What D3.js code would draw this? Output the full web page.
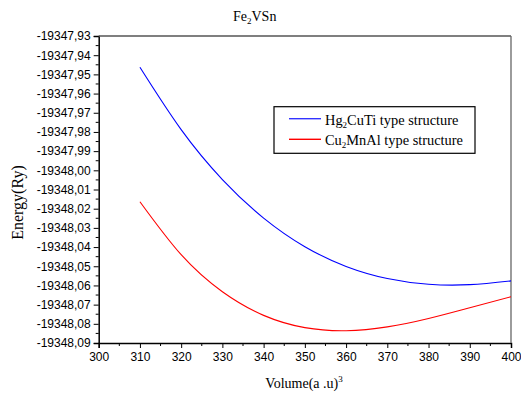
<!DOCTYPE html>
<html>
<head>
<meta charset="utf-8">
<script src="https://cdn.jsdelivr.net/npm/d3@7"></script>
<style>
  body { margin: 0; background: #fff; }
  .tick text { font-family: "Liberation Sans", Arial, sans-serif; font-size: 12px; fill: #000; }
</style>
</head>
<body>
<div id="chart"></div>
<script>
// volumes (a.u.^3) and energies (Ry)
var volumes = [310, 320, 330, 340, 350, 360, 370, 380, 390, 400];
var hgCuTi = [-19347.9463, -19347.9788, -19348.0048, -19348.0249, -19348.0398,
              -19348.0501, -19348.0564, -19348.0594, -19348.0596, -19348.0576];
var cuMnAl = [-19348.0164, -19348.0440, -19348.0633, -19348.0756, -19348.0820,
              -19348.0836, -19348.0816, -19348.0772, -19348.0716, -19348.0659];
var seriesNames = ["Hg2CuTi type structure", "Cu2MnAl type structure"];
var xTicks = [300, 310, 320, 330, 340, 350, 360, 370, 380, 390, 400];
var yTicks = [-19347.93, -19347.94, -19347.95, -19347.96, -19347.97, -19347.98, -19347.99,
              -19348.00, -19348.01, -19348.02, -19348.03, -19348.04, -19348.05, -19348.06,
              -19348.07, -19348.08, -19348.09];

var SERIF = "'Liberation Serif', 'Times New Roman', Times, 'DejaVu Serif', serif";

var width = 521, height = 396;
var margin = { top: 36, right: 10, bottom: 53, left: 98.7 };
var w = width - margin.left - margin.right,
    h = height - margin.top - margin.bottom;

var svg = d3.select("#chart").append("svg")
    .attr("width", width)
    .attr("height", height);

var g = svg.append("g")
    .attr("transform", "translate(" + margin.left + "," + margin.top + ")");

var x = d3.scaleLinear().domain([300, 400]).range([0, w]);
var y = d3.scaleLinear().domain([-19348.09, -19347.93]).range([h, 0]);

// minor ticks (half steps)
var xMinor = d3.range(305, 400, 10);
var yMinor = yTicks.slice(1).map(function(d) { return d + 0.005; });

g.selectAll(".xminor").data(xMinor).enter().append("line")
    .attr("x1", function(d) { return x(d); }).attr("x2", function(d) { return x(d); })
    .attr("y1", h).attr("y2", h + 3)
    .attr("stroke", "#000");
g.selectAll(".yminor").data(yMinor).enter().append("line")
    .attr("x1", -3).attr("x2", 0)
    .attr("y1", function(d) { return y(d); }).attr("y2", function(d) { return y(d); })
    .attr("stroke", "#000");

var xAxis = g.append("g")
    .attr("transform", "translate(0," + h + ")")
    .call(d3.axisBottom(x).tickValues(xTicks).tickSize(5).tickPadding(4).tickFormat(d3.format("d")));
xAxis.select(".domain").attr("stroke-width", 1.5);

var yAxis = g.append("g")
    .call(d3.axisLeft(y).tickValues(yTicks).tickSize(5).tickPadding(3)
      .tickFormat(function(d) { return d.toFixed(2).replace(".", ","); }));
yAxis.select(".domain").attr("stroke-width", 1.5);

// top and right frame
g.append("line").attr("x1", 0).attr("x2", w).attr("y1", 0).attr("y2", 0)
    .attr("stroke", "#555").attr("stroke-width", 1.3);
g.append("line").attr("x1", w).attr("x2", w).attr("y1", 0).attr("y2", h)
    .attr("stroke", "#666").attr("stroke-width", 1.3);

var line = d3.line()
    .x(function(d) { return x(d[0]); })
    .y(function(d) { return y(d[1]); })
    .curve(d3.curveNatural);

g.append("path")
    .datum(d3.zip(volumes, hgCuTi))
    .attr("d", line)
    .attr("fill", "none")
    .attr("stroke", "#0000ff")
    .attr("stroke-width", 1.1);

g.append("path")
    .datum(d3.zip(volumes, cuMnAl))
    .attr("d", line)
    .attr("fill", "none")
    .attr("stroke", "#ff0000")
    .attr("stroke-width", 1.1);

// title
var title = svg.append("text")
    .attr("x", 254.7).attr("y", 21)
    .attr("text-anchor", "middle")
    .style("font-family", SERIF).style("font-size", "14px");
title.append("tspan").text("Fe");
title.append("tspan").attr("dy", 3).style("font-size", "9px").text("2");
title.append("tspan").attr("dy", -3).text("VSn");

// axis titles
svg.append("text")
    .attr("transform", "translate(23,202.5) rotate(-90)")
    .attr("text-anchor", "middle")
    .style("font-family", SERIF).style("font-size", "16px")
    .text("Energy(Ry)");

var xt = svg.append("text")
    .attr("x", 304).attr("y", 388)
    .attr("text-anchor", "middle")
    .style("font-family", SERIF).style("font-size", "14px");
xt.append("tspan").text("Volume(a .u)");
xt.append("tspan").attr("dy", -6).style("font-size", "9px").text("3");

// legend
var legend = svg.append("g").attr("transform", "translate(274,106.7)");
legend.append("rect")
    .attr("width", 201).attr("height", 46.6)
    .attr("fill", "#fff").attr("stroke", "#000").attr("stroke-width", 1.2);

var colors = ["#3333ff", "#ff0000"];
var parts = [["Hg", "2", "CuTi type structure"], ["Cu", "2", "MnAl type structure"]];
seriesNames.forEach(function(name, i) {
  var ly = 12 + i * 20.6;
  legend.append("line")
      .attr("x1", 15).attr("x2", 47)
      .attr("y1", ly).attr("y2", ly)
      .attr("stroke", colors[i]).attr("stroke-width", 1.4);
  var t = legend.append("text")
      .attr("x", 51).attr("y", ly + 6)
      .style("font-family", SERIF).style("font-size", "14.4px");
  t.append("tspan").text(parts[i][0]);
  t.append("tspan").attr("dy", 3).style("font-size", "9px").text(parts[i][1]);
  t.append("tspan").attr("dy", -3).text(parts[i][2]);
});
</script>
</body>
</html>
